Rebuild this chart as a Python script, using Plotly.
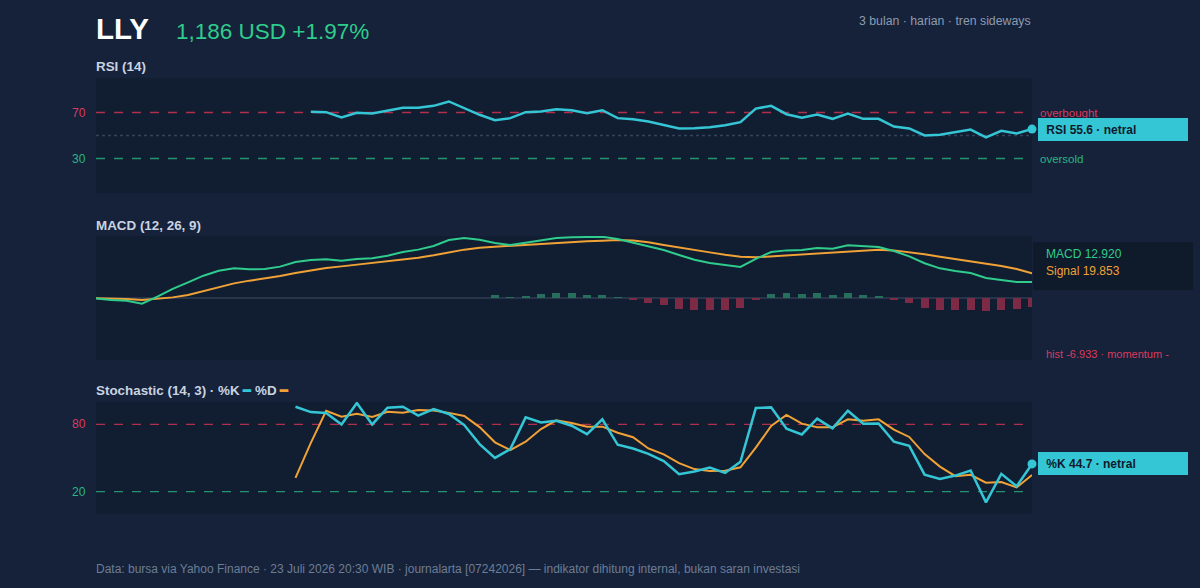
import plotly.graph_objects as go

# ---------------- data ----------------
days = list(range(62))

rsi_values = [None] * 14 + [
    70.6, 70.3, 65.7, 69.7, 69.1, 71.7, 74.1, 74.1, 75.8, 79.6,
    73.5, 68.0, 63.3, 65.1, 70.3, 70.9, 72.9, 72.0, 69.4, 72.0,
    65.1, 64.2, 62.2, 59.3, 56.1, 56.4, 57.2, 59.0, 61.6, 73.4,
    75.8, 68.5, 65.4, 68.3, 64.5, 69.1, 64.5, 64.5, 57.8, 56.1,
    50.0, 50.6, 52.9, 55.2, 48.3, 54.1, 51.7, 55.6,
]

macd_values = [
    -0.3, -1.6, -2.2, -4.6, 1.1, 7.3, 12.6, 18.0, 22.0, 23.9,
    23.1, 23.4, 25.3, 29.0, 30.6, 31.2, 30.1, 31.5, 32.0, 34.1,
    37.1, 39.0, 41.9, 46.8, 48.4, 47.0, 44.4, 42.7, 44.6, 46.2,
    48.4, 49.0, 48.9, 49.4, 47.6, 44.7, 41.9, 38.7, 34.7, 30.9,
    28.2, 26.3, 25.0, 31.5, 37.1, 38.4, 38.7, 40.3, 39.8, 42.5,
    41.9, 41.1, 37.9, 33.6, 28.0, 23.9, 21.8, 20.2, 16.1, 14.8,
    13.0, 12.920,
]

signal_values = [
    -0.3, -0.5, -0.8, -1.6, -0.8, 0.5, 2.4, 5.4, 8.9, 11.8,
    14.0, 15.6, 17.7, 20.2, 22.3, 24.2, 25.5, 26.9, 28.0, 29.3,
    31.2, 32.5, 34.4, 36.8, 39.0, 40.6, 41.4, 41.9, 42.5, 43.3,
    44.1, 44.9, 45.7, 46.2, 46.8, 46.3, 44.9, 42.7, 40.6, 38.7,
    36.8, 34.9, 33.3, 32.8, 33.6, 34.4, 35.2, 36.0, 36.8, 37.9,
    38.7, 39.0, 38.4, 37.1, 35.2, 33.3, 31.5, 29.8, 28.0, 25.8,
    23.4, 19.853,
]

hist_values = [None] * 26 + [
    2.7, 0.8, 1.9, 3.0, 4.0, 3.8, 2.4, 2.7, 0.5, -1.6,
    -3.8, -5.9, -8.6, -9.7, -9.9, -9.4, -8.3, -1.9, 3.0, 3.8,
    3.0, 3.8, 2.4, 3.8, 2.7, 1.3, -1.6, -4.3, -8.1, -9.9,
    -9.9, -9.4, -10.8, -9.4, -9.1, -6.933,
]

stoch_k = [None] * 13 + [
    95.8, 91.0, 90.1, 80.0, 99.1, 80.0, 94.9, 95.8, 87.8, 93.7,
    89.3, 79.4, 62.4, 50.1, 57.9, 86.3, 81.8, 83.3, 78.8, 71.3,
    84.5, 61.8, 58.5, 53.7, 47.2, 35.5, 37.9, 41.5, 36.7, 46.6,
    94.6, 95.2, 76.1, 71.0, 85.1, 76.4, 92.2, 80.6, 80.9, 64.5,
    60.9, 35.2, 31.3, 34.3, 38.8, 10.4, 35.8, 24.8, 44.7,
]

stoch_d = [None] * 13 + [
    32.2, 63.5, 92.2, 86.9, 89.6, 86.6, 91.3, 90.4, 92.9, 92.4,
    90.3, 87.5, 77.6, 64.0, 57.1, 64.6, 75.8, 83.6, 81.2, 77.9,
    78.0, 72.5, 68.5, 58.5, 53.3, 45.4, 40.1, 38.4, 38.6, 41.7,
    59.2, 78.6, 88.5, 80.7, 77.4, 77.4, 84.5, 83.2, 84.5, 75.4,
    68.8, 53.5, 42.3, 33.8, 35.0, 27.9, 28.5, 23.7, 34.9,
]

ticker = "LLY"
price_text = "1,186 USD +1.97%"
subtitle = "3 bulan · harian · tren sideways"
footer = ("Data: bursa via Yahoo Finance · 23 Juli 2026 20:30 WIB · journalarta [07242026]"
          " — indikator dihitung internal, bukan saran investasi")
rsi_levels = [70, 30]
stoch_levels = [80, 20]

# ---------------- style ----------------
W, H = 1200, 588
PAPER = "#15223a"
PLOTBG = "#111e31"
CYAN = "#35c6d6"
GREEN = "#2fcc8d"
ORANGE = "#f0a236"
RED = "#dc3a5c"
RED_DASH = "rgba(214,52,84,0.8)"
GREEN_DASH = "rgba(44,176,130,0.8)"
TITLE_C = "#c9d3e1"
MUTED = "#8d9bb1"
FONT = "Liberation Sans, Arial, sans-serif"

def py(px):
    return 1 - px / H

def px_x(px):
    return px / W

XDOM = [px_x(96), px_x(1032)]
rsi_dom = [py(193), py(78)]
macd_dom = [py(360), py(236)]
sto_dom = [py(514), py(402)]

fig = go.Figure()

# RSI
fig.add_trace(go.Scatter(x=days, y=rsi_values, mode="lines", line=dict(color=CYAN, width=2.5),
                         xaxis="x", yaxis="y", hoverinfo="skip"))
fig.add_trace(go.Scatter(x=[days[-1]], y=[rsi_values[-1]], mode="markers", marker=dict(color=CYAN, size=9),
                         xaxis="x", yaxis="y", cliponaxis=False, hoverinfo="skip"))

# MACD
hist_colors = ["#276e5c" if (v is not None and v >= 0) else "#7c2a46" for v in hist_values]
fig.add_trace(go.Bar(x=days, y=hist_values, marker=dict(color=hist_colors, line=dict(width=0)),
                     width=0.52, xaxis="x2", yaxis="y2", hoverinfo="skip"))
fig.add_trace(go.Scatter(x=days, y=signal_values, mode="lines", line=dict(color=ORANGE, width=2),
                         xaxis="x2", yaxis="y2", hoverinfo="skip"))
fig.add_trace(go.Scatter(x=days, y=macd_values, mode="lines", line=dict(color=GREEN, width=2),
                         xaxis="x2", yaxis="y2", hoverinfo="skip"))

# Stochastic
fig.add_trace(go.Scatter(x=days, y=stoch_d, mode="lines", line=dict(color=ORANGE, width=2),
                         xaxis="x3", yaxis="y3", hoverinfo="skip"))
fig.add_trace(go.Scatter(x=days, y=stoch_k, mode="lines", line=dict(color=CYAN, width=2.5),
                         xaxis="x3", yaxis="y3", hoverinfo="skip"))
fig.add_trace(go.Scatter(x=[days[-1]], y=[stoch_k[-1]], mode="markers", marker=dict(color=CYAN, size=9),
                         xaxis="x3", yaxis="y3", cliponaxis=False, hoverinfo="skip"))

xr = [days[0], days[-1]]
shapes = []
shapes.append(dict(type="line", xref="x", yref="y", x0=xr[0], x1=xr[1], y0=rsi_levels[0], y1=rsi_levels[0],
                   line=dict(color=RED_DASH, width=1.3, dash="dash"), layer="below"))
shapes.append(dict(type="line", xref="x", yref="y", x0=xr[0], x1=xr[1], y0=rsi_levels[1], y1=rsi_levels[1],
                   line=dict(color=GREEN_DASH, width=1.3, dash="dash"), layer="below"))
shapes.append(dict(type="line", xref="x", yref="y", x0=xr[0], x1=xr[1], y0=50, y1=50,
                   line=dict(color="#34435a", width=1.5, dash="dot"), layer="below"))
shapes.append(dict(type="line", xref="x2", yref="y2", x0=xr[0], x1=xr[1], y0=0, y1=0,
                   line=dict(color="#2f3d53", width=1.5), layer="below"))
shapes.append(dict(type="line", xref="x3", yref="y3", x0=xr[0], x1=xr[1], y0=stoch_levels[0], y1=stoch_levels[0],
                   line=dict(color=RED_DASH, width=1.3, dash="dash"), layer="below"))
shapes.append(dict(type="line", xref="x3", yref="y3", x0=xr[0], x1=xr[1], y0=stoch_levels[1], y1=stoch_levels[1],
                   line=dict(color=GREEN_DASH, width=1.3, dash="dash"), layer="below"))
shapes.append(dict(type="rect", xref="paper", yref="paper", x0=px_x(1033), x1=px_x(1193), y0=py(290), y1=py(242),
                   fillcolor="#0f1a2b", line=dict(width=0), layer="below"))

ann = []
def text(x, y, s, size=12, color=TITLE_C, xanchor="left", bold=False, yref="paper"):
    # compensate plotly's internal annotation padding (~2px)
    xx = px_x(x - 2) if xanchor == "left" else px_x(x + 2)
    ann.append(dict(x=xx, y=y, xref="paper", yref=yref, text=(f"<b>{s}</b>" if bold else s), showarrow=False,
                    xanchor=xanchor, yanchor="middle", font=dict(family=FONT, size=size, color=color)))

text(96, py(28), ticker, size=29.5, color="#ffffff", bold=True)
text(176, py(31), price_text, size=22.5, color=GREEN)
text(1031, py(21), subtitle, size=12.3, color=MUTED, xanchor="right")
text(96, py(67), "RSI (14)", size=13.4, bold=True)
text(96, py(225), "MACD (12, 26, 9)", size=13.4, bold=True)
text(96, py(390),
     f"Stochastic (14, 3) · %K <span style='color:{CYAN}'>━</span> %D <span style='color:{ORANGE}'>━</span>",
     size=13.4, bold=True)
text(96, py(569), footer, size=12, color="#6d7d95")

# y tick labels
text(86, rsi_levels[0], str(rsi_levels[0]), size=12, color=RED, xanchor="right", yref="y")
text(86, rsi_levels[1], str(rsi_levels[1]), size=12, color="#2bb582", xanchor="right", yref="y")
text(86, stoch_levels[0], str(stoch_levels[0]), size=12, color=RED, xanchor="right", yref="y3")
text(86, stoch_levels[1], str(stoch_levels[1]), size=12, color="#2bb582", xanchor="right", yref="y3")
text(1040, rsi_levels[0], "overbought", size=11.5, color=RED, yref="y")
text(1040, rsi_levels[1], "oversold", size=11.5, color="#2bb582", yref="y")

# value badges
for val, lab, yr in [(rsi_values[-1], f"RSI {rsi_values[-1]:.1f} · netral", "y"),
                     (stoch_k[-1], f"%K {stoch_k[-1]:.1f} · netral", "y3")]:
    ann.append(dict(x=px_x(1038), y=val, xref="paper", yref=yr, text=f"&nbsp;<b>{lab}</b>", showarrow=False,
                    xanchor="left", yanchor="middle", align="left", width=140, height=13,
                    bgcolor=CYAN, bordercolor=CYAN, borderwidth=1, borderpad=4,
                    font=dict(family=FONT, size=12, color="#0e1a2c")))

text(1046, py(254), f"MACD {macd_values[-1]:.3f}", size=12, color=GREEN)
text(1046, py(271), f"Signal {signal_values[-1]:.3f}", size=12, color=ORANGE)
text(1046, py(354), f"hist {hist_values[-1]:.3f} · momentum -", size=11, color=RED)

def xaxis(anchor):
    return dict(domain=XDOM, range=xr, visible=False, fixedrange=True, anchor=anchor)

def yaxis(dom, rng, anchor):
    return dict(domain=dom, range=rng, visible=False, fixedrange=True, anchor=anchor)

fig.update_layout(
    width=W, height=H, margin=dict(l=0, r=0, t=0, b=0),
    paper_bgcolor=PAPER, plot_bgcolor=PLOTBG, showlegend=False,
    font=dict(family=FONT),
    xaxis=xaxis("y"), xaxis2=xaxis("y2"), xaxis3=xaxis("y3"),
    yaxis=yaxis(rsi_dom, [0, 100], "x"),
    yaxis2=yaxis(macd_dom, [-50, 50], "x2"),
    yaxis3=yaxis(sto_dom, [0, 100], "x3"),
    shapes=shapes, annotations=ann, bargap=0,
)

fig.write_html("out.html")
